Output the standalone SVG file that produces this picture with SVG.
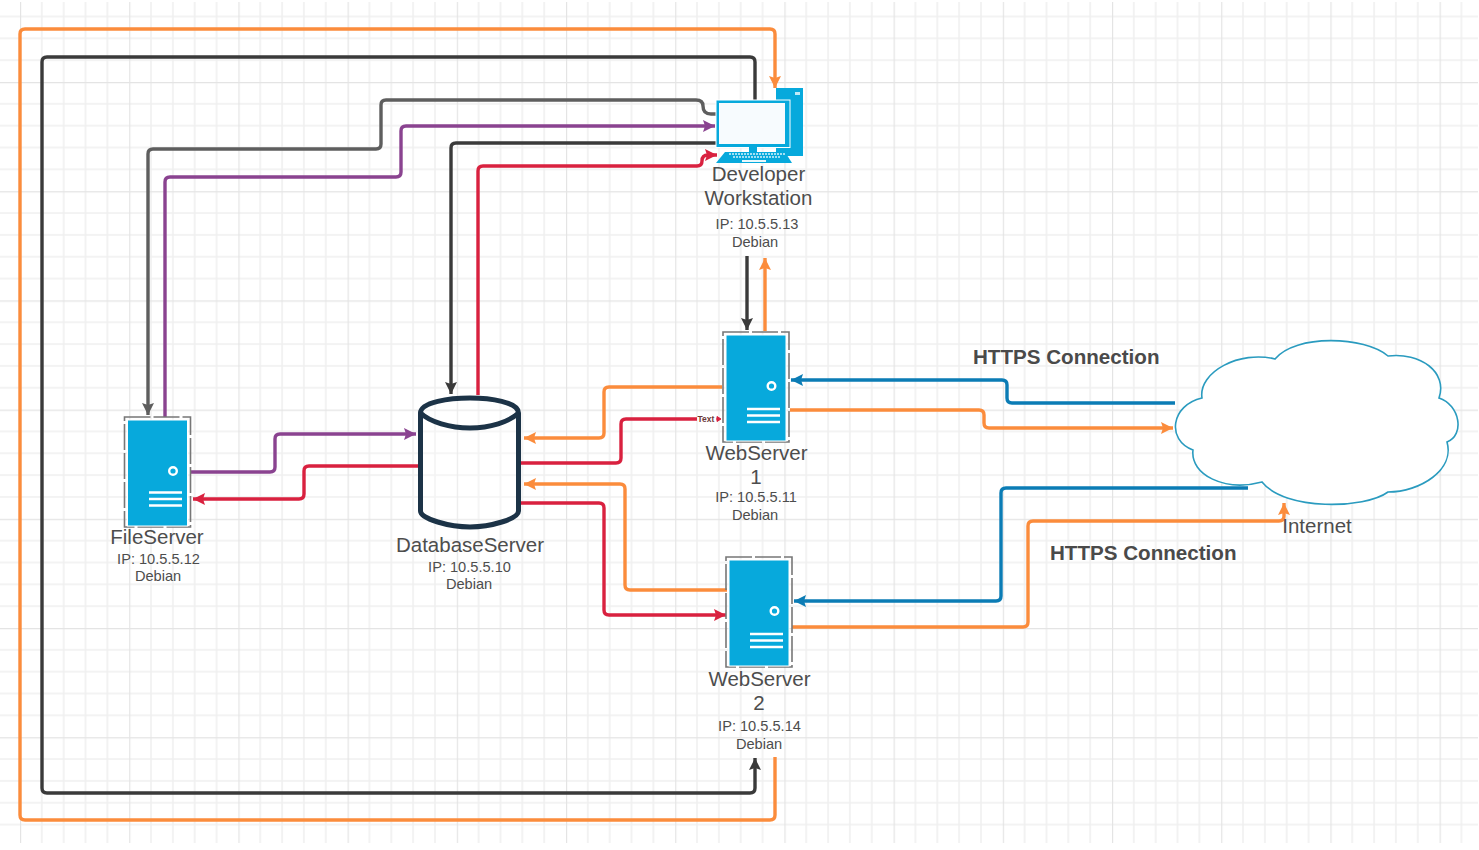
<svg xmlns="http://www.w3.org/2000/svg" width="1479" height="850" viewBox="0 0 1479 850">
<style>
.t{font-family:"Liberation Sans",Arial,sans-serif;fill:#4d4d4d;text-anchor:middle}
.n{font-size:20.5px}.s{font-size:14.6px}
.b{font-family:"Liberation Sans",Arial,sans-serif;font-weight:bold;font-size:20.6px;fill:#4a4a4a}
.c{fill:none;stroke-width:3.4;stroke-linejoin:round}
.o{stroke:#fb8c3c}.k{stroke:#3a3a3a}.g{stroke:#5e5e5e}.p{stroke:#8a4390}.r{stroke:#d9213f}.u{stroke:#0b7cb5}
.srv{fill:#07a9dc;stroke:#fff;stroke-width:1}
.sel{fill:none;stroke:#777;stroke-width:1.6;stroke-dasharray:26 3}
.w{stroke:#fff;stroke-width:2.4;fill:none}
</style>
<defs>
<pattern id="grid" patternUnits="userSpaceOnUse" x="20" y="82" width="109.2" height="109.2">
<path d="M21.8 0V109.2M43.7 0V109.2M65.5 0V109.2M87.4 0V109.2M0 21.8H109.2M0 43.7H109.2M0 65.5H109.2M0 87.4H109.2" stroke="#f0f0f0" stroke-width="1.6" fill="none"/>
<path d="M0 0V109.2M0 0H109.2" stroke="#e4e4e4" stroke-width="2.4" fill="none"/>
</pattern>
<marker id="ao" markerUnits="userSpaceOnUse" markerWidth="14" markerHeight="12" refX="12" refY="6" orient="auto"><path d="M0 0L12 6L0 12L2 6Z" fill="#fb8c3c"/></marker>
<marker id="ak" markerUnits="userSpaceOnUse" markerWidth="14" markerHeight="12" refX="12" refY="6" orient="auto"><path d="M0 0L12 6L0 12L2 6Z" fill="#3a3a3a"/></marker>
<marker id="ag" markerUnits="userSpaceOnUse" markerWidth="14" markerHeight="12" refX="12" refY="6" orient="auto"><path d="M0 0L12 6L0 12L2 6Z" fill="#5e5e5e"/></marker>
<marker id="ap" markerUnits="userSpaceOnUse" markerWidth="14" markerHeight="12" refX="12" refY="6" orient="auto"><path d="M0 0L12 6L0 12L2 6Z" fill="#8a4390"/></marker>
<marker id="ar" markerUnits="userSpaceOnUse" markerWidth="14" markerHeight="12" refX="12" refY="6" orient="auto"><path d="M0 0L12 6L0 12L2 6Z" fill="#d9213f"/></marker>
<marker id="au" markerUnits="userSpaceOnUse" markerWidth="14" markerHeight="12" refX="12" refY="6" orient="auto"><path d="M0 0L12 6L0 12L2 6Z" fill="#0b7cb5"/></marker>
</defs>
<rect width="1479" height="850" fill="#fff"/>
<rect x="0" y="2" width="1478" height="841" fill="url(#grid)"/>

<g id="connectors">
<path class="c o" marker-end="url(#ao)" d="M775 757V815Q775 820 770 820H25Q20 820 20 815V34Q20 29 25 29H770Q775 29 775 34V88"/>
<path class="c k" marker-end="url(#ak)" d="M755 100V62Q755 57 750 57H47Q42 57 42 62V788Q42 793 47 793H750Q755 793 755 788V758"/>
<path class="c g" marker-end="url(#ag)" d="M716 114H711Q703 114 703 106Q703 100 696 100H386Q381 100 381 105V144Q381 149 376 149H153Q148 149 148 154V415"/>
<path class="c p" marker-end="url(#ap)" d="M165 417V182Q165 177 170 177H396Q401 177 401 172V131Q401 126 406 126H715"/>
<path class="c k" marker-end="url(#ak)" d="M716 143H456Q451 143 451 148V394"/>
<path class="c r" marker-end="url(#ar)" d="M478 395V171Q478 166 483 166H697Q702 166 702 161Q702 155 708 155H717"/>
<path class="c k" marker-end="url(#ak)" d="M747 256V330"/>
<path class="c o" marker-end="url(#ao)" d="M765 331V258"/>
<path class="c o" marker-end="url(#ao)" d="M722 387H609Q604 387 604 392V433Q604 438 599 438H524"/>
<path class="c r" d="M521 463H616Q621 463 621 458V424Q621 419 626 419H697"/>
<path class="c u" marker-end="url(#au)" d="M1175 403H1012Q1007 403 1007 398V385Q1007 380 1002 380H791"/>
<path class="c o" marker-end="url(#ao)" d="M790 410H979Q984 410 984 415V423Q984 428 989 428H1173"/>
<path class="c o" marker-end="url(#ao)" d="M727 590H630Q625 590 625 585V489Q625 484 620 484H524"/>
<path class="c r" marker-end="url(#ar)" d="M521 503H599Q604 503 604 508V610Q604 615 609 615H726"/>
<path class="c u" marker-end="url(#au)" d="M1248 488H1006Q1001 488 1001 493V596Q1001 601 996 601H794"/>
<path class="c o" marker-end="url(#ao)" d="M792 627H1023Q1028 627 1028 622V526Q1028 521 1033 521H1279Q1284 521 1284 516V503"/>
<path class="c p" marker-end="url(#ap)" d="M190 472H270Q275 472 275 467V439Q275 434 280 434H416"/>
<path class="c r" marker-end="url(#ar)" d="M418 466H309Q304 466 304 471V494Q304 499 299 499H193"/>
<path d="M716 419H720M717 416.500L721 419L717 421.500Z" stroke="#d9213f" stroke-width="1" fill="#d9213f"/>
<text x="706" y="422" font-family="'Liberation Sans',Arial,sans-serif" font-size="8.500" font-weight="bold" text-anchor="middle" fill="#6b3b3b">Text</text>
</g>

<g id="workstation">
<rect x="776" y="88" width="27" height="68" fill="#07a9dc"/>
<rect x="795" y="92" width="5" height="3" fill="#bfeaf7"/>
<rect x="716" y="100" width="74" height="47.500" fill="#07a9dc" stroke="#fff" stroke-width="1"/>
<rect x="719" y="103" width="66" height="41" fill="#f7fbfe"/>
<rect x="749" y="147" width="8" height="6" fill="#07a9dc"/>
<path d="M725 152H785L792 163H716Z" fill="#07a9dc"/>
<path d="M729 154H786M733 157H781" stroke="#d6f2fa" stroke-width="1.300" stroke-dasharray="2 1" fill="none"/>
<rect x="742" y="160" width="24" height="2" fill="#e8f8fc"/>
<text class="t n" x="758.500" y="181">Developer</text>
<text class="t n" x="758.500" y="205">Workstation</text>
<text class="t s" x="757" y="229">IP: 10.5.5.13</text>
<text class="t s" x="755" y="247">Debian</text>
</g>

<g id="webserver1">
<rect class="sel" x="723" y="332" width="66" height="110"/>
<rect class="srv" x="726" y="335" width="60" height="106"/>
<circle class="w" cx="771.500" cy="386" r="3.800"/>
<path class="w" d="M747 409H780M747 415.500H780M747 422H780"/>
<text class="t n" x="756.500" y="460">WebServer</text>
<text class="t n" x="756" y="484">1</text>
<text class="t s" x="756" y="502">IP: 10.5.5.11</text>
<text class="t s" x="755" y="520">Debian</text>
</g>

<g id="webserver2">
<rect class="sel" x="726" y="557" width="66" height="110"/>
<rect class="srv" x="729" y="560" width="60" height="106"/>
<circle class="w" cx="774.500" cy="611" r="3.800"/>
<path class="w" d="M750 634H783M750 640.500H783M750 647H783"/>
<text class="t n" x="759.500" y="685.500">WebServer</text>
<text class="t n" x="759" y="709.500">2</text>
<text class="t s" x="759.500" y="731">IP: 10.5.5.14</text>
<text class="t s" x="759" y="749">Debian</text>
</g>

<g id="fileserver">
<rect class="sel" x="124.500" y="417" width="66" height="110"/>
<rect class="srv" x="127.500" y="420" width="60" height="106"/>
<circle class="w" cx="173" cy="471" r="3.800"/>
<path class="w" d="M149 492.500H182M149 499H182M149 505.500H182"/>
<text class="t n" x="157" y="544">FileServer</text>
<text class="t s" x="158.500" y="564">IP: 10.5.5.12</text>
<text class="t s" x="158" y="581">Debian</text>
</g>

<g id="database">
<path d="M420.500 413C420.500 402 450 398 470 398C490 398 518.500 402 518.500 413V511C518.500 519 490 527 470 527C450 527 420.500 519 420.500 511Z" fill="#fff" fill-opacity=".25" stroke="#1c3347" stroke-width="5"/>
<path d="M420.500 413C430 422 450 428 470 428C490 428 509 422 518.500 413" fill="none" stroke="#1c3347" stroke-width="5"/>
<text class="t n" x="470" y="552">DatabaseServer</text>
<text class="t s" x="469.500" y="572">IP: 10.5.5.10</text>
<text class="t s" x="469" y="589">Debian</text>
</g>

<g id="internet">
<path d="M1202 398C1198 372 1240 350 1275 359C1295 334 1365 336 1388 356C1420 352 1448 372 1439 398C1460 405 1465 435 1447 442C1455 470 1420 492 1388 492C1365 509 1285 511 1262 482C1225 492 1190 475 1193 450C1166 440 1171 405 1202 398Z" fill="#fff" stroke="#2a9bbf" stroke-width="1.600"/>
<text class="t n" x="1317" y="533">Internet</text>
</g>

<text class="b" x="973" y="364">HTTPS Connection</text>
<text class="b" x="1050" y="560">HTTPS Connection</text>
</svg>
